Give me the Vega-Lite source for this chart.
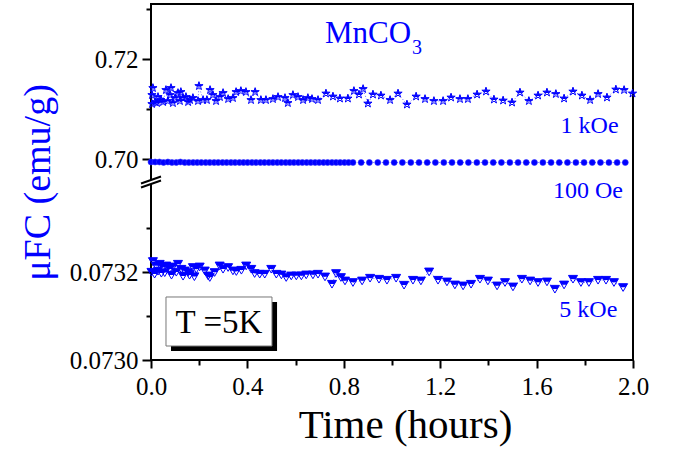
{
  "$schema": "https://vega.github.io/schema/vega-lite/v6.json",
  "width": 482,
  "height": 356,
  "autosize": "none",
  "padding": {"left": 151, "top": 4, "right": 41, "bottom": 92},
  "background": "white",
  "config": {
    "view": {"stroke": "black", "strokeWidth": 2},
    "font": "Liberation Serif",
    "text": {"font": "Liberation Serif"},
    "axis": {"labelFont": "Liberation Serif", "titleFont": "Liberation Serif"}
  },
  "datasets": {
    "stars": [
      {"t":0.004,"v":0.7128},{"t":0.004,"v":0.7110},{"t":0.008,"v":0.7142},{"t":0.017,"v":0.7114},{"t":0.025,"v":0.7112},{"t":0.029,"v":0.7124},{"t":0.041,"v":0.7118},{"t":0.050,"v":0.7114},{"t":0.062,"v":0.7138},{"t":0.070,"v":0.7116},{"t":0.079,"v":0.7128},{"t":0.083,"v":0.7142},{"t":0.091,"v":0.7112},{"t":0.100,"v":0.7122},{"t":0.112,"v":0.7132},{"t":0.120,"v":0.7116},{"t":0.124,"v":0.7134},{"t":0.133,"v":0.7122},{"t":0.145,"v":0.7124},{"t":0.154,"v":0.7114},{"t":0.162,"v":0.7118},{"t":0.174,"v":0.7122},{"t":0.195,"v":0.7116},{"t":0.199,"v":0.7146},{"t":0.216,"v":0.7118},{"t":0.232,"v":0.7118},{"t":0.245,"v":0.7138},{"t":0.257,"v":0.7128},{"t":0.270,"v":0.7116},{"t":0.286,"v":0.7124},{"t":0.299,"v":0.7132},{"t":0.320,"v":0.7120},{"t":0.340,"v":0.7122},{"t":0.353,"v":0.7134},{"t":0.373,"v":0.7136},{"t":0.394,"v":0.7134},{"t":0.415,"v":0.7118},{"t":0.432,"v":0.7134},{"t":0.456,"v":0.7118},{"t":0.477,"v":0.7118},{"t":0.506,"v":0.7120},{"t":0.527,"v":0.7124},{"t":0.556,"v":0.7122},{"t":0.568,"v":0.7112},{"t":0.589,"v":0.7128},{"t":0.610,"v":0.7124},{"t":0.631,"v":0.7118},{"t":0.651,"v":0.7122},{"t":0.668,"v":0.7120},{"t":0.693,"v":0.7118},{"t":0.726,"v":0.7131},{"t":0.755,"v":0.7125},{"t":0.784,"v":0.7121},{"t":0.817,"v":0.7121},{"t":0.842,"v":0.7136},{"t":0.863,"v":0.7129},{"t":0.880,"v":0.7140},{"t":0.900,"v":0.7111},{"t":0.921,"v":0.7129},{"t":0.954,"v":0.7127},{"t":0.992,"v":0.7118},{"t":1.025,"v":0.7131},{"t":1.062,"v":0.7109},{"t":1.100,"v":0.7125},{"t":1.137,"v":0.7120},{"t":1.174,"v":0.7116},{"t":1.212,"v":0.7116},{"t":1.245,"v":0.7123},{"t":1.282,"v":0.7120},{"t":1.315,"v":0.7120},{"t":1.353,"v":0.7129},{"t":1.390,"v":0.7135},{"t":1.423,"v":0.7119},{"t":1.461,"v":0.7117},{"t":1.498,"v":0.7113},{"t":1.531,"v":0.7133},{"t":1.568,"v":0.7116},{"t":1.606,"v":0.7127},{"t":1.643,"v":0.7133},{"t":1.680,"v":0.7130},{"t":1.714,"v":0.7121},{"t":1.751,"v":0.7135},{"t":1.788,"v":0.7127},{"t":1.822,"v":0.7118},{"t":1.855,"v":0.7130},{"t":1.892,"v":0.7123},{"t":1.929,"v":0.7139},{"t":1.963,"v":0.7138},{"t":1.998,"v":0.7131}
    ],
    "circles": [
      {"t":0.000,"v":0.6994},{"t":0.017,"v":0.6994},{"t":0.035,"v":0.6994},{"t":0.052,"v":0.6993},{"t":0.070,"v":0.6994},{"t":0.087,"v":0.6993},{"t":0.105,"v":0.6993},{"t":0.122,"v":0.6994},{"t":0.140,"v":0.6993},{"t":0.157,"v":0.6993},{"t":0.175,"v":0.6993},{"t":0.192,"v":0.6993},{"t":0.209,"v":0.6993},{"t":0.227,"v":0.6993},{"t":0.244,"v":0.6993},{"t":0.262,"v":0.6993},{"t":0.279,"v":0.6993},{"t":0.297,"v":0.6993},{"t":0.314,"v":0.6993},{"t":0.332,"v":0.6993},{"t":0.349,"v":0.6993},{"t":0.367,"v":0.6993},{"t":0.384,"v":0.6993},{"t":0.401,"v":0.6993},{"t":0.419,"v":0.6993},{"t":0.436,"v":0.6993},{"t":0.454,"v":0.6993},{"t":0.471,"v":0.6993},{"t":0.489,"v":0.6993},{"t":0.506,"v":0.6993},{"t":0.524,"v":0.6993},{"t":0.541,"v":0.6993},{"t":0.559,"v":0.6993},{"t":0.576,"v":0.6993},{"t":0.593,"v":0.6993},{"t":0.611,"v":0.6993},{"t":0.628,"v":0.6993},{"t":0.646,"v":0.6993},{"t":0.663,"v":0.6993},{"t":0.681,"v":0.6993},{"t":0.698,"v":0.6993},{"t":0.716,"v":0.6993},{"t":0.733,"v":0.6993},{"t":0.751,"v":0.6993},{"t":0.768,"v":0.6993},{"t":0.785,"v":0.6993},{"t":0.803,"v":0.6993},{"t":0.820,"v":0.6993},{"t":0.838,"v":0.6993},{"t":0.872,"v":0.6993},{"t":0.906,"v":0.6993},{"t":0.941,"v":0.6993},{"t":0.975,"v":0.6993},{"t":1.009,"v":0.6993},{"t":1.043,"v":0.6993},{"t":1.078,"v":0.6993},{"t":1.112,"v":0.6993},{"t":1.146,"v":0.6993},{"t":1.180,"v":0.6993},{"t":1.215,"v":0.6993},{"t":1.249,"v":0.6993},{"t":1.283,"v":0.6993},{"t":1.317,"v":0.6993},{"t":1.352,"v":0.6993},{"t":1.386,"v":0.6993},{"t":1.420,"v":0.6993},{"t":1.454,"v":0.6993},{"t":1.489,"v":0.6993},{"t":1.523,"v":0.6993},{"t":1.557,"v":0.6993},{"t":1.591,"v":0.6993},{"t":1.626,"v":0.6993},{"t":1.660,"v":0.6993},{"t":1.694,"v":0.6993},{"t":1.728,"v":0.6993},{"t":1.763,"v":0.6993},{"t":1.797,"v":0.6993},{"t":1.831,"v":0.6993},{"t":1.865,"v":0.6993},{"t":1.900,"v":0.6993},{"t":1.934,"v":0.6993},{"t":1.968,"v":0.6993}
    ],
    "tris": [
      {"t":0.002,"v":0.0732},{"t":0.008,"v":0.0732243},{"t":0.015,"v":0.0731955},{"t":0.022,"v":0.0732143},{"t":0.029,"v":0.0732023},{"t":0.036,"v":0.0732182},{"t":0.043,"v":0.0731977},{"t":0.050,"v":0.0732107},{"t":0.057,"v":0.0731989},{"t":0.063,"v":0.0732143},{"t":0.078,"v":0.0732068},{"t":0.085,"v":0.0731932},{"t":0.091,"v":0.073212},{"t":0.105,"v":0.0732},{"t":0.112,"v":0.0732182},{"t":0.126,"v":0.0732068},{"t":0.133,"v":0.0731909},{"t":0.140,"v":0.073203},{"t":0.154,"v":0.0731993},{"t":0.160,"v":0.0731932},{"t":0.174,"v":0.0732107},{"t":0.180,"v":0.0731898},{"t":0.188,"v":0.0732068},{"t":0.202,"v":0.073212},{"t":0.223,"v":0.073203},{"t":0.237,"v":0.0731916},{"t":0.244,"v":0.073188},{"t":0.264,"v":0.0731993},{"t":0.285,"v":0.0732143},{"t":0.299,"v":0.0732068},{"t":0.320,"v":0.0732107},{"t":0.340,"v":0.073203},{"t":0.354,"v":0.0732016},{"t":0.375,"v":0.0732045},{"t":0.395,"v":0.0732143},{"t":0.416,"v":0.0732068},{"t":0.430,"v":0.073197},{"t":0.451,"v":0.0731955},{"t":0.472,"v":0.0731955},{"t":0.499,"v":0.0732068},{"t":0.520,"v":0.0731955},{"t":0.541,"v":0.0731939},{"t":0.561,"v":0.073188},{"t":0.582,"v":0.0731916},{"t":0.603,"v":0.0731916},{"t":0.624,"v":0.0731916},{"t":0.644,"v":0.0731939},{"t":0.672,"v":0.0731939},{"t":0.693,"v":0.0731955},{"t":0.722,"v":0.0731893},{"t":0.751,"v":0.0731727},{"t":0.768,"v":0.073197},{"t":0.788,"v":0.073188},{"t":0.805,"v":0.0731802},{"t":0.838,"v":0.0731766},{"t":0.876,"v":0.0731802},{"t":0.909,"v":0.0731864},{"t":0.946,"v":0.0731841},{"t":0.979,"v":0.0731818},{"t":1.017,"v":0.0731864},{"t":1.050,"v":0.0731705},{"t":1.087,"v":0.0731818},{"t":1.120,"v":0.0731802},{"t":1.154,"v":0.0732007},{"t":1.191,"v":0.0731818},{"t":1.228,"v":0.073178},{"t":1.261,"v":0.0731711},{"t":1.295,"v":0.0731689},{"t":1.328,"v":0.0731727},{"t":1.365,"v":0.0731841},{"t":1.398,"v":0.0731802},{"t":1.436,"v":0.0731689},{"t":1.469,"v":0.0731766},{"t":1.502,"v":0.0731666},{"t":1.539,"v":0.0731841},{"t":1.573,"v":0.0731802},{"t":1.606,"v":0.0731766},{"t":1.643,"v":0.073178},{"t":1.676,"v":0.0731614},{"t":1.714,"v":0.0731711},{"t":1.751,"v":0.0731841},{"t":1.784,"v":0.0731766},{"t":1.817,"v":0.0731766},{"t":1.855,"v":0.0731818},{"t":1.888,"v":0.0731818},{"t":1.921,"v":0.0731766},{"t":1.959,"v":0.0731652}
    ]
  },
  "layer": [
    {
      "data": {"name": "stars"},
      "encoding": {
        "x": {
          "field": "t", "type": "quantitative",
          "scale": {"domain": [0, 2], "nice": false, "zero": false},
          "axis": {
            "title": "Time (hours)",
            "values": [0, 0.2, 0.4, 0.6, 0.8, 1.0, 1.2, 1.4, 1.6, 1.8, 2.0],
            "labelExpr": "indexof([0,0.4,0.8,1.2,1.6,2], datum.value) >= 0 ? format(datum.value, '.1f') : ''",
            "tickSize": {"condition": {"test": "indexof([0,0.4,0.8,1.2,1.6,2], datum.value) >= 0", "value": 8}, "value": 5},
            "tickWidth": 2, "tickColor": "black",
            "domain": false, "grid": false,
            "labelFont": "Liberation Serif", "labelFontSize": 25, "labelColor": "black", "labelPadding": 6,
            "labelFlush": false, "labelOverlap": false,
            "titleFont": "Liberation Serif", "titleFontSize": 41, "titleFontWeight": "normal", "titleColor": "black",
            "titlePadding": 6, "titleX": 254
          }
        },
        "y": {
          "field": "v", "type": "quantitative",
          "scale": {"type": "linear", "domain": [0.073, 0.0734, 0.6958, 0.731], "range": [356, 180, 176, 0], "nice": false, "zero": false},
          "axis": {
            "title": "μFC (emu/g)",
            "values": [0.073, 0.0731, 0.0732, 0.0733, 0.7, 0.71, 0.72, 0.73],
            "labelExpr": "datum.value == 0.073 ? '0.0730' : datum.value == 0.0732 ? '0.0732' : datum.value == 0.7 ? '0.70' : datum.value == 0.72 ? '0.72' : ''",
            "tickSize": {"condition": {"test": "indexof([0.073,0.0732,0.7,0.72], datum.value) >= 0", "value": 9}, "value": 5},
            "tickWidth": 2, "tickColor": "black",
            "domain": false, "grid": false,
            "labelFont": "Liberation Serif", "labelFontSize": 25, "labelColor": "black", "labelPadding": 4,
            "labelOverlap": false,
            "titleFont": "Liberation Serif", "titleFontSize": 38, "titleFontWeight": "normal", "titleColor": "#0000ff",
            "titlePadding": 12
          }
        }
      },
      "layer": [
        {"mark": {"type": "line", "color": "#0000ff", "strokeWidth": 0.8, "strokeDash": [1, 2], "opacity": 0.7}},
        {"mark": {"type": "point", "shape": "M0,-1L0.225,-0.309L0.951,-0.309L0.363,0.118L0.588,0.809L0,0.382L-0.588,0.809L-0.363,0.118L-0.951,-0.309L-0.225,-0.309Z", "filled": false, "stroke": "#0000ff", "strokeWidth": 1, "size": 75, "opacity": 1}},
        {"mark": {"type": "point", "shape": "M0,-1L0.225,-0.309L0.951,-0.309L0.363,0.118L-0.363,0.118L-0.951,-0.309L-0.225,-0.309Z", "filled": true, "fill": "#0000ff", "strokeWidth": 0, "size": 75, "opacity": 1}}
      ]
    },
    {
      "data": {"name": "circles"},
      "encoding": {
        "x": {"field": "t", "type": "quantitative", "scale": {"domain": [0, 2], "nice": false, "zero": false}},
        "y": {"field": "v", "type": "quantitative", "scale": {"type": "linear", "domain": [0.073, 0.0734, 0.6958, 0.731], "range": [356, 180, 176, 0], "nice": false, "zero": false}}
      },
      "layer": [
        {"mark": {"type": "line", "color": "#0000ff", "strokeWidth": 0.8, "strokeDash": [1, 2], "opacity": 0.7}},
        {"mark": {"type": "circle", "fill": "#0000ff", "stroke": "#3333ff", "strokeWidth": 0.6, "size": 36, "opacity": 1}}
      ]
    },
    {
      "data": {"name": "tris"},
      "encoding": {
        "x": {"field": "t", "type": "quantitative", "scale": {"domain": [0, 2], "nice": false, "zero": false}},
        "y": {"field": "v", "type": "quantitative", "scale": {"type": "linear", "domain": [0.073, 0.0734, 0.6958, 0.731], "range": [356, 180, 176, 0], "nice": false, "zero": false}}
      },
      "layer": [
        {"mark": {"type": "line", "color": "#0000ff", "strokeWidth": 0.8, "strokeDash": [1, 2], "opacity": 0.7}},
        {"mark": {"type": "point", "shape": "M-1,-0.8L1,-0.8L0,0.9Z", "filled": false, "stroke": "#0000ff", "strokeWidth": 1, "size": 81, "opacity": 1}},
        {"mark": {"type": "point", "shape": "M-1,-0.8L1,-0.8L0.53,0L-0.53,0Z", "filled": true, "fill": "#0000ff", "strokeWidth": 0, "size": 81, "opacity": 1}}
      ]
    },
    {
      "data": {"values": [{}]},
      "mark": {"type": "rect", "fill": "black"},
      "encoding": {
        "x": {"datum": 0.083, "type": "quantitative"},
        "x2": {"datum": 0.523},
        "y": {"datum": 0.0731318, "type": "quantitative"},
        "y2": {"datum": 0.0730205}
      }
    },
    {
      "data": {"values": [{}]},
      "mark": {"type": "rect", "fill": "white", "stroke": "#777777", "strokeWidth": 1},
      "encoding": {
        "x": {"datum": 0.0622, "type": "quantitative"},
        "x2": {"datum": 0.502},
        "y": {"datum": 0.0731432, "type": "quantitative"},
        "y2": {"datum": 0.0730318}
      }
    },
    {
      "data": {"values": [{}]},
      "mark": {"type": "text", "text": "T =5K", "font": "Liberation Serif", "fontSize": 33, "color": "black", "align": "center", "baseline": "alphabetic"},
      "encoding": {
        "x": {"datum": 0.282, "type": "quantitative"},
        "y": {"datum": 0.0730614, "type": "quantitative"}
      }
    },
    {
      "data": {"values": [{}]},
      "mark": {"type": "text", "text": "MnCO", "font": "Liberation Serif", "fontSize": 31, "color": "#0000ff", "align": "left", "baseline": "alphabetic"},
      "encoding": {
        "x": {"datum": 0.722, "type": "quantitative"},
        "y": {"datum": 0.7232, "type": "quantitative"}
      }
    },
    {
      "data": {"values": [{}]},
      "mark": {"type": "text", "text": "3", "font": "Liberation Serif", "fontSize": 20, "color": "#0000ff", "align": "left", "baseline": "alphabetic"},
      "encoding": {
        "x": {"datum": 1.083, "type": "quantitative"},
        "y": {"datum": 0.721, "type": "quantitative"}
      }
    },
    {
      "data": {"values": [{}]},
      "mark": {"type": "text", "text": "1 kOe", "font": "Liberation Serif", "fontSize": 24, "color": "#0000ff", "align": "right", "baseline": "alphabetic"},
      "encoding": {
        "x": {"datum": 1.94, "type": "quantitative"},
        "y": {"datum": 0.7052, "type": "quantitative"}
      }
    },
    {
      "data": {"values": [{}]},
      "mark": {"type": "text", "text": "100 Oe", "font": "Liberation Serif", "fontSize": 24, "color": "#0000ff", "align": "right", "baseline": "alphabetic"},
      "encoding": {
        "x": {"datum": 1.958, "type": "quantitative"},
        "y": {"datum": 0.073368, "type": "quantitative"}
      }
    },
    {
      "data": {"values": [{}]},
      "mark": {"type": "text", "text": "5 kOe", "font": "Liberation Serif", "fontSize": 24, "color": "#0000ff", "align": "right", "baseline": "alphabetic"},
      "encoding": {
        "x": {"datum": 1.935, "type": "quantitative"},
        "y": {"datum": 0.0730977, "type": "quantitative"}
      }
    },
    {
      "data": {"values": [{}]},
      "mark": {"type": "point", "shape": "M-0.3,0.305L0.3,0.095L0.3,-0.305L-0.3,-0.095Z", "filled": true, "fill": "white", "strokeWidth": 0, "size": 400, "opacity": 1},
      "encoding": {
        "x": {"datum": 0, "type": "quantitative"},
        "y": {"datum": 0.3846, "type": "quantitative"}
      }
    },
    {
      "data": {"values": [{}]},
      "mark": {"type": "point", "shape": "M-1,0.55L1,-0.15M-1,0.15L1,-0.55", "filled": false, "stroke": "black", "strokeWidth": 2, "size": 400, "opacity": 1},
      "encoding": {
        "x": {"datum": 0, "type": "quantitative"},
        "y": {"datum": 0.3846, "type": "quantitative"}
      }
    }
  ]
}
